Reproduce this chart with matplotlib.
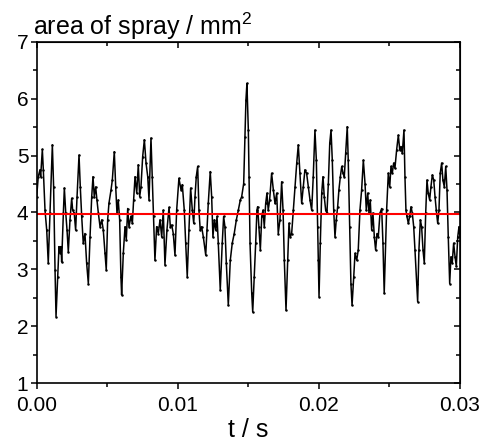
import matplotlib
matplotlib.use('Agg')
import matplotlib.pyplot as plt
import numpy as np

# time in ms and spray area in mm^2
t_ms = [0.00, 0.11, 0.23, 0.28, 0.40, 0.47, 0.59, 0.71, 0.82, 0.94,
        1.11, 1.20, 1.30, 1.37, 1.49, 1.58, 1.65, 1.72, 1.77, 1.89,
        1.96, 2.06, 2.15, 2.24, 2.36, 2.48, 2.55, 2.66, 2.76, 2.86,
        3.00, 3.09, 3.19, 3.30, 3.42, 3.54, 3.66, 3.78, 3.90, 3.99,
        4.08, 4.18, 4.27, 4.37, 4.49, 4.61, 4.72, 4.84, 4.93, 5.03,
        5.12, 5.27, 5.36, 5.50, 5.60, 5.69, 5.78, 5.88, 5.97, 6.02,
        6.14, 6.26, 6.35, 6.45, 6.54, 6.68, 6.78, 6.87, 6.97, 7.09,
        7.20, 7.30, 7.39, 7.51, 7.63, 7.75, 7.87, 7.96, 8.10, 8.19,
        8.29, 8.38, 8.50, 8.62, 8.74, 8.86, 8.97, 9.09, 9.23, 9.38,
        9.47, 9.57, 9.68, 9.80, 9.92, 10.08, 10.23, 10.32, 10.46, 10.56,
        10.67, 10.79, 10.91, 11.03, 11.13, 11.22, 11.31, 11.41, 11.50, 11.59,
        11.69, 11.81, 11.98, 12.07, 12.16, 12.30, 12.40, 12.49, 12.59, 12.69,
        12.78, 12.87, 13.01, 13.15, 13.25, 13.34, 13.44, 13.58, 13.72, 13.86,
        14.00, 14.15, 14.29, 14.43, 14.53, 14.67, 14.76, 14.83, 14.90, 15.00,
        15.05, 15.12, 15.24, 15.31, 15.42, 15.52, 15.61, 15.66, 15.75, 15.85,
        15.95, 16.04, 16.13, 16.23, 16.32, 16.41, 16.51, 16.65, 16.77, 16.89,
        17.01, 17.12, 17.24, 17.36, 17.46, 17.55, 17.67, 17.79, 17.88, 17.97,
        18.07, 18.19, 18.31, 18.43, 18.54, 18.66, 18.78, 18.89, 19.01, 19.13,
        19.25, 19.37, 19.49, 19.60, 19.72, 19.82, 19.91, 19.96, 20.01, 20.10,
        20.20, 20.29, 20.38, 20.48, 20.57, 20.67, 20.77, 20.86, 20.95, 21.05,
        21.14, 21.23, 21.33, 21.42, 21.52, 21.62, 21.71, 21.80, 21.90, 22.01,
        22.08, 22.18, 22.27, 22.35, 22.47, 22.56, 22.68, 22.79, 22.91, 23.03,
        23.15, 23.27, 23.36, 23.46, 23.55, 23.64, 23.74, 23.83, 23.93, 24.02,
        24.12, 24.21, 24.33, 24.45, 24.54, 24.63, 24.80, 24.92, 25.02, 25.11,
        25.20, 25.30, 25.39, 25.51, 25.63, 25.73, 25.82, 25.91, 26.03, 26.10,
        26.17, 26.24, 26.34, 26.43, 26.53, 26.62, 26.72, 26.81, 26.93, 27.00,
        27.09, 27.19, 27.28, 27.38, 27.47, 27.57, 27.66, 27.75, 27.85, 27.94,
        28.04, 28.14, 28.23, 28.32, 28.42, 28.51, 28.60, 28.70, 28.79, 28.89,
        28.99, 29.08, 29.17, 29.27, 29.36, 29.45, 29.55, 29.65, 29.74, 29.84,
        29.93, 30.00]

area = [4.28, 4.63, 4.75, 4.63, 5.11, 4.75, 4.04, 3.69, 3.11, 3.99,
        5.19, 4.45, 2.99, 2.17, 2.87, 3.40, 3.29, 3.40, 3.13, 3.99,
        4.43, 3.99, 3.69, 3.31, 3.87, 4.25, 4.04, 3.99, 3.69, 4.28,
        5.01, 4.45, 3.93, 3.46, 3.63, 3.11, 2.75, 3.57, 4.28, 4.63,
        4.28, 4.45, 4.22, 3.99, 3.75, 3.87, 3.69, 3.29, 2.99, 3.87,
        4.16, 4.40, 4.57, 5.07, 4.45, 3.99, 4.22, 3.87, 2.87, 2.55,
        3.29, 3.75, 3.52, 4.07, 3.75, 3.93, 3.81, 4.22, 4.63, 4.34,
        4.84, 4.28, 4.45, 4.98, 5.28, 4.87, 4.63, 4.22, 5.31, 4.63,
        3.93, 3.16, 3.75, 3.63, 3.87, 3.57, 4.04, 3.08, 3.69, 4.09,
        3.75, 3.78, 3.63, 3.25, 4.04, 4.60, 4.40, 4.49, 4.04, 3.46,
        2.87, 3.69, 4.43, 4.04, 3.81, 4.28, 4.63, 4.81, 4.04, 3.69,
        3.75, 3.57, 3.25, 3.69, 4.16, 4.72, 4.28, 3.57, 3.87, 3.69,
        3.93, 3.46, 2.64, 3.46, 3.93, 3.75, 3.11, 2.37, 3.16, 3.46,
        3.63, 3.87, 4.04, 4.22, 4.28, 4.51, 5.33, 5.98, 6.27, 5.45,
        4.63, 3.46, 2.58, 2.25, 2.87, 3.46, 4.04, 4.10, 3.75, 3.34,
        3.93, 4.04, 3.75, 4.16, 4.34, 4.04, 4.22, 4.69, 4.40, 4.16,
        4.34, 3.63, 3.87, 4.54, 4.04, 3.16, 2.28, 3.16, 3.81, 3.57,
        3.63, 4.04, 4.45, 4.87, 5.19, 4.69, 4.16, 4.45, 4.75, 4.69,
        4.45, 4.22, 4.04, 4.63, 5.45, 4.92, 3.75, 3.16, 2.52, 3.46,
        4.34, 4.63, 4.28, 4.04, 3.99, 4.51, 5.22, 5.45, 4.92, 4.04,
        3.57, 3.87, 4.10, 4.40, 4.63, 4.81, 4.69, 4.63, 5.04, 5.51,
        4.92, 3.75, 2.75, 2.37, 2.87, 3.28, 3.16, 3.34, 4.04, 4.40,
        4.92, 4.51, 4.04, 4.34, 3.99, 4.22, 3.69, 3.99, 3.57, 3.34,
        3.63, 3.57, 3.99, 4.07, 3.46, 2.58, 4.04, 4.69, 4.45, 4.81,
        4.69, 4.87, 4.78, 5.10, 5.36, 5.10, 5.16, 5.04, 5.45, 4.63,
        4.04, 3.93, 3.81, 3.93, 4.10, 3.99, 3.75, 3.34, 2.75, 2.43,
        3.34, 3.87, 3.75, 3.34, 3.11, 3.99, 4.57, 4.34, 4.22, 4.45,
        4.66, 4.57, 4.28, 4.04, 3.81, 4.04, 4.69, 4.87, 4.57, 4.45,
        4.81, 4.40, 3.57, 2.75, 3.22, 3.11, 3.46, 3.22, 3.05, 3.57,
        3.75, 3.57]

mean_area = 3.97

x_ticks = [0.00, 0.01, 0.02, 0.03]
y_ticks = [1, 2, 3, 4, 5, 6, 7]

plt.rcParams['font.family'] = ['Liberation Sans', 'DejaVu Sans']
plt.rcParams['mathtext.fontset'] = 'custom'
plt.rcParams['mathtext.rm'] = 'Liberation Sans'
plt.rcParams['mathtext.it'] = 'Liberation Sans'


def spray_plot(t, a, mean, out_path='out.png'):
    '''
    Plot the spray area trace with its mean value as a red line
    '''
    fig = plt.figure(figsize=(4.79, 4.41), dpi=100)
    ax = fig.add_axes([0.0766, 0.1315, 0.8837, 0.7733])

    t = np.asarray(t) / 1000.0
    ax.plot(t, a, color='k', linewidth=1.1, marker='o', markersize=1.8,
            markeredgewidth=0)
    ax.axhline(mean, color='#ff0000', linewidth=1.5)

    ax.set_xlim(0, 0.03)
    ax.set_ylim(1, 7)
    ax.set_xticks(x_ticks)
    ax.set_xticklabels(['%.2f' % v for v in x_ticks])
    ax.set_xticks([0.005, 0.015, 0.025], minor=True)
    ax.set_yticks(y_ticks)
    ax.set_yticks(np.arange(1.5, 7, 1.0), minor=True)

    for s in ax.spines.values():
        s.set_linewidth(1.2)
    ax.tick_params(which='both', direction='out', width=1.1, labelsize=15)
    ax.tick_params(which='major', length=4)
    ax.tick_params(which='minor', length=3)
    ax.tick_params(axis='x', pad=5)
    ax.tick_params(axis='y', pad=2)

    # mirrored ticks pointing inwards on top and right
    top = ax.secondary_xaxis('top')
    top.set_xticks(x_ticks)
    top.set_xticks([0.005, 0.015, 0.025], minor=True)
    top.tick_params(which='both', direction='in', width=1.1, labeltop=False)
    top.tick_params(which='major', length=4)
    top.tick_params(which='minor', length=3)
    right = ax.secondary_yaxis('right')
    right.set_yticks(y_ticks)
    right.set_yticks(np.arange(1.5, 7, 1.0), minor=True)
    right.tick_params(which='both', direction='in', width=1.1, labelright=False)
    right.tick_params(which='major', length=4)
    right.tick_params(which='minor', length=3)

    fig.text(33 / 479, 1 - 35 / 441, 'area of spray / mm$^2$',
             fontsize=18, ha='left', va='baseline')
    fig.text(248 / 479, 1 - 437 / 441, 't / s', fontsize=18,
             ha='center', va='baseline')

    fig.savefig(out_path, dpi=100)
    plt.close(fig)


spray_plot(t_ms, area, mean_area)
